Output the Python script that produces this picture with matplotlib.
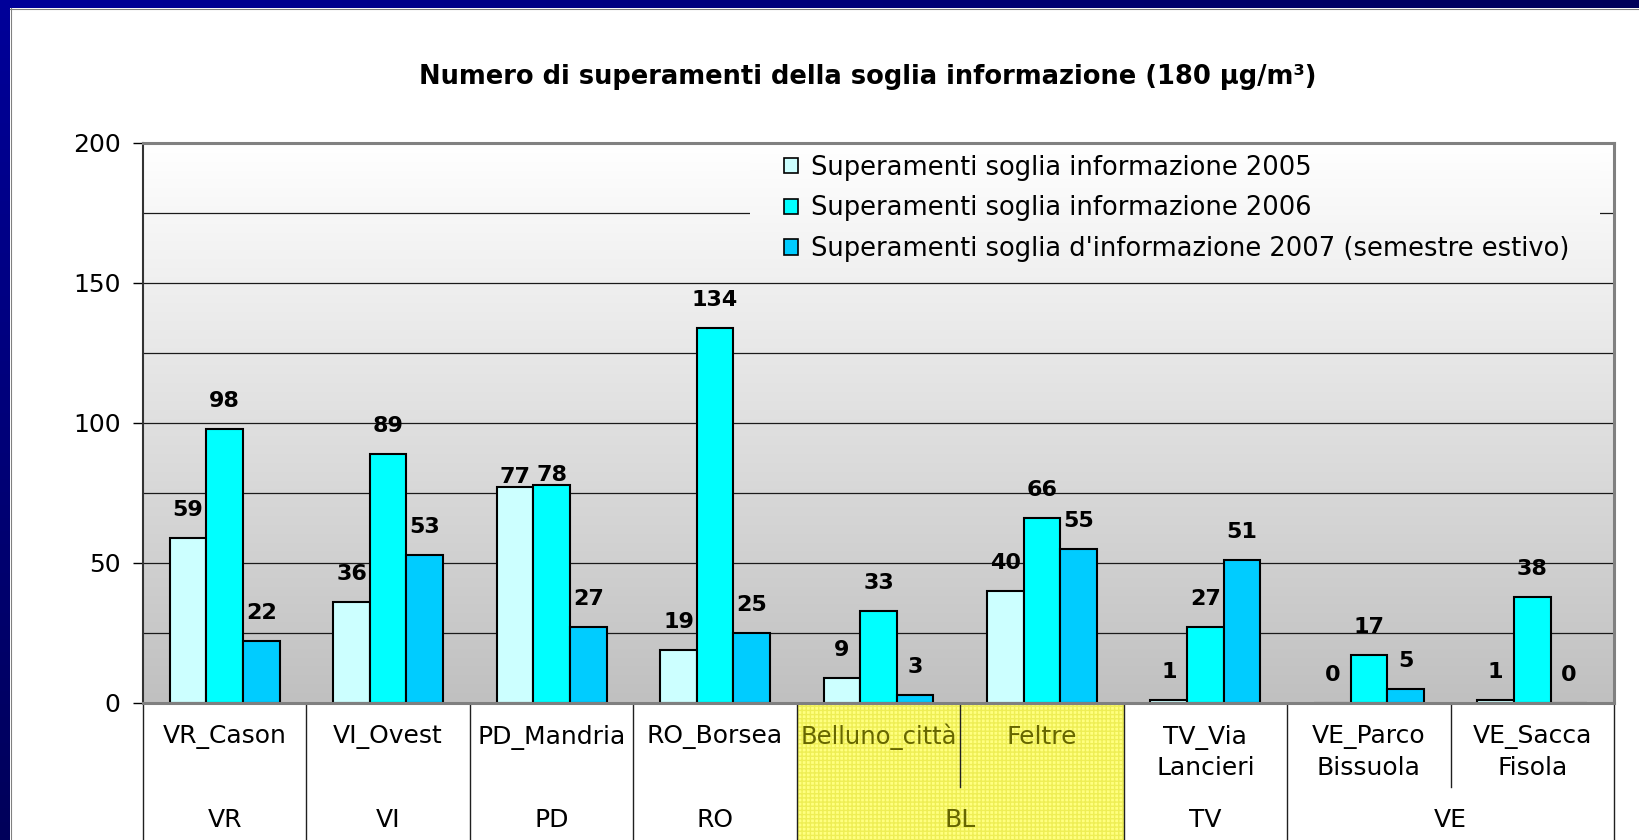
import numpy as np
import matplotlib
matplotlib.use('Agg')
import matplotlib.pyplot as plt
from matplotlib.patches import Rectangle, Patch
from matplotlib.colors import LinearSegmentedColormap
import matplotlib.transforms as mtransforms

plt.rcParams['font.family'] = ['DejaVu Sans']

# ---------------- data ----------------
categories = ['VR_Cason', 'VI_Ovest', 'PD_Mandria', 'RO_Borsea', 'Belluno_città',
              'Feltre', 'TV_Via\nLancieri', 'VE_Parco\nBissuola', 'VE_Sacca\nFisola']
groups = ['VR', 'VI', 'PD', 'RO', 'BL', 'TV', 'VE']
group_sizes = [1, 1, 1, 1, 2, 1, 2]
highlight_group = 'BL'
series_names = ['Superamenti soglia informazione 2005',
                'Superamenti soglia informazione 2006',
                "Superamenti soglia d'informazione 2007 (semestre estivo)"]
v2005 = [59, 36, 77, 19, 9, 40, 1, 0, 1]
v2006 = [98, 89, 78, 134, 33, 66, 27, 17, 38]
v2007 = [22, 53, 27, 25, 3, 55, 51, 5, 0]
yticks = [0, 50, 100, 150, 200]
grid_step = 25
title = 'Numero di superamenti della soglia informazione (180 µg/m³)'

# ---------------- style ----------------
colors = ['#CCFFFF', '#00FFFF', '#00CCFF']
W_PX, H_PX = 1639, 840
AX_L, AX_R, AX_T, AX_B = 143, 1614, 143, 703   # pixel box of plot area
FS = 18

fig = plt.figure(figsize=(W_PX / 100, H_PX / 100), dpi=100)
fig.patch.set_facecolor('white')

# frame (dark blue strips)
bg = fig.add_axes([0, 0, 1, 1], zorder=-10)
frame_cmap = LinearSegmentedColormap.from_list('frame', ['#000099', '#00005a'])
bg.imshow(np.linspace(0, 1, 200).reshape(-1, 1), cmap=frame_cmap,
          extent=(0, 10, H_PX, 0), aspect='auto', interpolation='bilinear')
bg.imshow(np.linspace(0, 1, 200).reshape(1, -1), cmap=frame_cmap,
          extent=(0, W_PX, 8, 0), aspect='auto', interpolation='bilinear')
bg.plot([10.5, 10.5], [8, H_PX], color='#808080', lw=0.8)
bg.plot([10, W_PX], [8.5, 8.5], color='#808080', lw=0.8)
bg.set_xlim(0, W_PX)
bg.set_ylim(H_PX, 0)
bg.axis('off')

ax = fig.add_axes([AX_L / W_PX, 1 - AX_B / H_PX,
                   (AX_R - AX_L) / W_PX, (AX_B - AX_T) / H_PX], zorder=1)

n = len(categories)
x = np.arange(n)
ymax = yticks[-1]
xlim = (-0.5, n - 0.5)

# gradient plot background
grad_cmap = LinearSegmentedColormap.from_list('grad', ['#ffffff', '#c0c0c0'])
ax.imshow(np.linspace(0, 1, 256).reshape(-1, 1), cmap=grad_cmap, vmin=0, vmax=1,
          extent=(xlim[0], xlim[1], 0, ymax), aspect='auto',
          interpolation='bilinear', zorder=0)

# gridlines
for gy in range(grid_step, ymax, grid_step):
    ax.axhline(gy, color='#1a1a1a', lw=0.9, zorder=1)

# patch of background behind legend (hides gridline like the original)
leg_x0 = (750 - AX_L) / (AX_R - AX_L) * n - 0.5
leg_x1 = (1600 - AX_L) / (AX_R - AX_L) * n - 0.5
leg_ylow = 160
ax.imshow(np.linspace(0, 1 - leg_ylow / ymax, 64).reshape(-1, 1), cmap=grad_cmap,
          vmin=0, vmax=1, extent=(leg_x0, leg_x1, leg_ylow, ymax), aspect='auto',
          interpolation='bilinear', zorder=1.5)

# bars
bw = 0.224
series = [v2005, v2006, v2007]
special_offsets = {(2, 0): 10, (2, 1): 10}   # (category, series) -> px
for i, (vals, col) in enumerate(zip(series, colors)):
    xs = x + (i - 1) * bw
    ax.bar(xs, vals, bw, color=col, edgecolor='black', linewidth=1.5, zorder=3)
    for j, (xx, v) in enumerate(zip(xs, vals)):
        off_px = special_offsets.get((j, i), 28)
        ax.annotate(str(v), (xx, v), xytext=(0, off_px * 0.72),
                    textcoords='offset points', ha='center', va='center',
                    fontsize=16, fontweight='bold', zorder=4)

ax.set_xlim(*xlim)
ax.set_ylim(0, ymax)
ax.set_xticks([])
ax.set_yticks(yticks)
ax.tick_params(axis='y', length=7.2, width=1, pad=9, labelsize=FS, colors='black')

for s in ['top', 'right', 'bottom']:
    ax.spines[s].set_color('#808080')
    ax.spines[s].set_linewidth(2.2)
ax.spines['left'].set_color('#333333')
ax.spines['left'].set_linewidth(1.5)
for s in ax.spines.values():
    s.set_zorder(5)

# legend
handles = [Patch(facecolor=c, edgecolor='black', linewidth=1.2) for c in colors]
leg = ax.legend(handles, series_names, loc='upper left',
                bbox_to_anchor=((781 - AX_L) / (AX_R - AX_L), (AX_B - 152) / (AX_B - AX_T)),
                fontsize=18.5, handlelength=0.56, handleheight=0.56, handletextpad=0.5,
                labelspacing=0.58, borderpad=0.1, borderaxespad=0, frameon=False)
leg.set_zorder(6)

# category axis (two levels) below the plot
trans = mtransforms.blended_transform_factory(ax.transData, ax.transAxes)


def ypx(p):
    return (AX_B - p) / (AX_B - AX_T)


y_bottom = ypx(H_PX)
y_inner = ypx(787)
row_y = [ypx(737), ypx(768)]
group_y = ypx(820)

starts = np.concatenate([[0], np.cumsum(group_sizes)[:-1]])
cat_in_highlight = set()
for g, st, sz in zip(groups, starts, group_sizes):
    if g == highlight_group:
        ax.add_patch(Rectangle((st - 0.5, y_bottom), sz, -y_bottom, transform=trans,
                               facecolor='#ffff80', edgecolor='none', clip_on=False, zorder=0.5))
        ax.add_patch(Rectangle((st - 0.5, y_bottom), sz, -y_bottom, transform=trans,
                               facecolor='none', edgecolor='#eeee55', linewidth=0,
                               hatch='++++', clip_on=False, zorder=0.6))
        cat_in_highlight.update(range(st, st + sz))
    # full height separator at group start
    ax.plot([st - 0.5, st - 0.5], [0, y_bottom], transform=trans, color='#202020',
            lw=1, clip_on=False, zorder=2)
    for k in range(1, sz):
        ax.plot([st + k - 0.5] * 2, [0, y_inner], transform=trans, color='#202020',
                lw=1, clip_on=False, zorder=2)
    tcol = '#666600' if g == highlight_group else 'black'
    ax.text(st + (sz - 1) / 2, group_y, g, transform=trans, ha='center', va='center',
            fontsize=FS, color=tcol)
ax.plot([n - 0.5, n - 0.5], [0, y_bottom], transform=trans, color='#202020',
        lw=1, clip_on=False, zorder=2)

for j, lab in enumerate(categories):
    tcol = '#666600' if j in cat_in_highlight else 'black'
    fs = FS - 0.5 if len(max(lab.split('\n'), key=len)) > 12 else FS
    for li, line in enumerate(lab.split('\n')):
        ax.text(j, row_y[li], line, transform=trans, ha='center', va='center',
                fontsize=fs, color=tcol)

# title
fig.text(868 / W_PX, 1 - 77 / H_PX, title, ha='center', va='center',
         fontsize=18.5, fontweight='bold')

fig.savefig('out.png', dpi=100, facecolor='white')
